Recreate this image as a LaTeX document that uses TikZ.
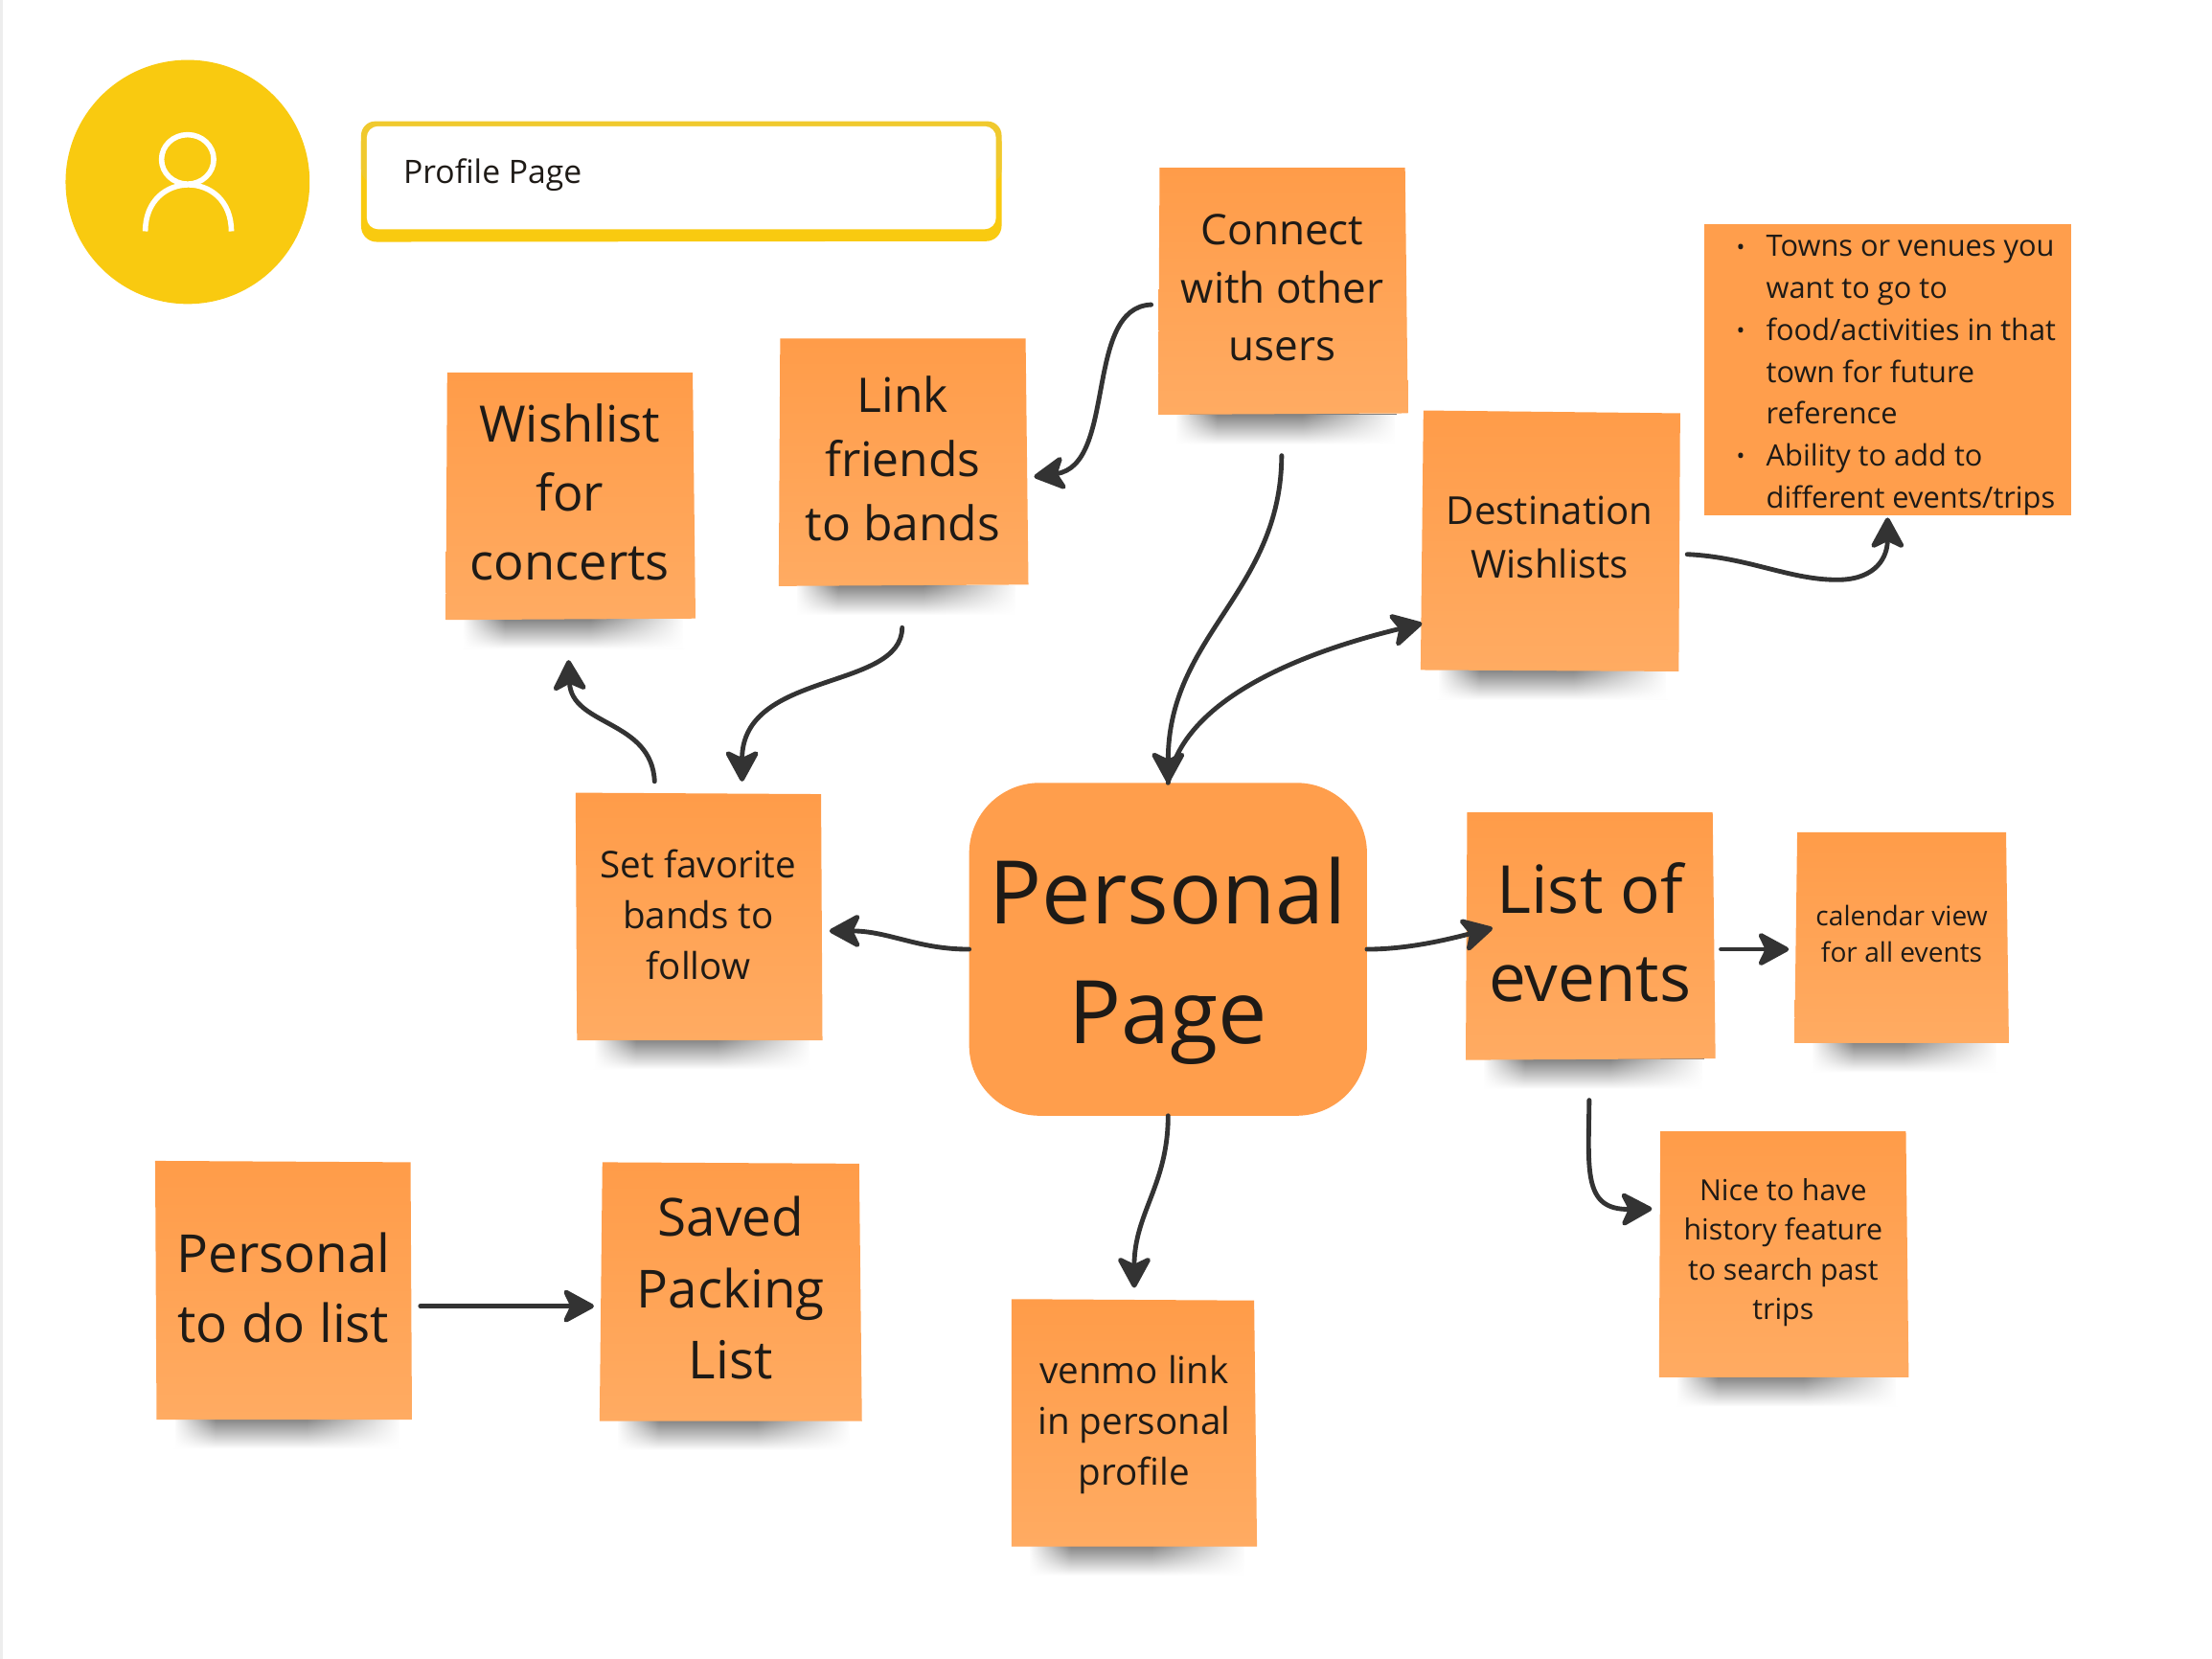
\documentclass[tikz,border=0pt]{standalone}
\usepackage{fontspec}
\setmainfont{Open Sans}
\usetikzlibrary{arrows.meta,fadings,calc}
\definecolor{noteTop}{HTML}{FF9C49}
\definecolor{noteBot}{HTML}{FFAB62}
\definecolor{noteFlat}{HTML}{FF9E4C}
\definecolor{avatarYellow}{HTML}{F9CA10}
\definecolor{rimYellow}{HTML}{F0C92E}
\definecolor{inkDark}{HTML}{1E1A16}
\definecolor{arrowDark}{HTML}{333333}
\tikzset{
  notebody/.style={top color=noteTop,bottom color=noteBot,draw=none},
  notelabel/.style={align=center,text=inkDark,inner sep=0pt,outer sep=0pt},
  flow/.style={draw=arrowDark,line width=1.65pt,line cap=round,
    -{Stealth[length=12.5pt,width=13.5pt,inset=3.2pt,round]}},
  shadowstrip/.style={top color=black!48,bottom color=white,draw=none}
}
\newcommand{\fs}[2]{\fontsize{#1pt}{#2pt}\selectfont}
% #1 left x, #2 right x, #3 bottom y
\newcommand{\noteshadow}[3]{%
  \pgfmathsetmacro{\sa}{#1+12}\pgfmathsetmacro{\sb}{#2-8}\pgfmathsetmacro{\sc}{#3+21}%
  \pgfmathsetmacro{\sd}{#1+42}\pgfmathsetmacro{\se}{#2-75}%
  \shade[shadowstrip] (\sa,#3) rectangle (\sb,\sc);
  \fill[white,path fading=east] (\sa,#3) rectangle (\sd,\sc);
  \fill[white,path fading=west] (\se,#3) rectangle (\sb,\sc);
  \pgfmathsetmacro{\sf}{\sa-3}\pgfmathsetmacro{\sg}{\sa+1}\pgfmathsetmacro{\sh}{\sb+3}\pgfmathsetmacro{\si}{\sb-1}%
  \fill[white] (\sf,#3) rectangle (\sg,\sc);
  \fill[white] (\si,#3) rectangle (\sh,\sc);
}
% #1 name, #2 polygon, #3 centre, #4 width pt, #5 height pt, #6 font, #7 text
\newcommand{\sticky}[7]{%
  \shade[notebody] #2 -- cycle;
  \node[notelabel,minimum width=#4pt,minimum height=#5pt,font=#6] (#1) at #3 {#7};
}
\newcommand{\blt}{\llap{\raisebox{0.6pt}{\fontsize{8}{8}\selectfont •}\hspace{7.5pt}}}
\begin{document}
\begin{tikzpicture}[x=0.5pt,y=-0.5pt]
\useasboundingbox (0,0) rectangle (1568,1176);
\fill[white] (0,0) rectangle (1568,1176);
\fill[black!7] (0,0) rectangle (2,1176);

% avatar
\fill[avatarYellow] (133,129) circle [radius=86.5];
\draw[white,line width=1.9pt] (133,113) circle [x radius=18.5,y radius=17.5];
\draw[white,line width=1.9pt] (103,164) .. controls (103,120) and (164,120) .. (164,164);
\node[inner sep=0pt] (avatar) at (133,129) {};

% profile field
\fill[avatarYellow] (256,100) -- (710,100) -- (710,160) arc (0:90:11) -- (267,171.5) arc (90:180:11) -- cycle;
\fill[rimYellow,rounded corners=5pt] (256,86) rectangle (710,130);
\fill[white,rounded corners=4pt] (260,89.5) rectangle (706,162.5);
\node[anchor=base west,inner sep=0pt,text=inkDark,font=\fs{11.45}{16}] (profile) at (285.5,130) {Profile Page};

% shadows
\noteshadow{821}{998}{294}
\noteshadow{552}{729}{415}
\noteshadow{316}{493}{439}
\noteshadow{1007}{1190}{475}
\noteshadow{409}{583}{737}
\noteshadow{1039}{1216}{751}
\noteshadow{1272}{1424}{739}
\noteshadow{1176}{1353}{976}
\noteshadow{111}{292}{1006}
\noteshadow{425}{611}{1007}
\noteshadow{717}{891}{1096}

% notes
\sticky{connect}{(822,119) -- (996,119) -- (998,293) -- (821,294)}{(909,204)}{88}{87}{\fs{14.95}{20.6}}{Connect\\with other\\users}
\sticky{link}{(553,240) -- (727,240) -- (729,414.5) -- (552,415.5)}{(640,325)}{88}{87}{\fs{16.9}{22.8}}{Link\\friends\\to bands}
\sticky{wishlist}{(317,264) -- (491,264) -- (493,438.5) -- (316,439.5)}{(404,349)}{88}{87}{\fs{17.8}{24.5}}{Wishlist\\for\\concerts}
\sticky{destination}{(1009,291) -- (1191,293) -- (1190,476) -- (1007,475)}{(1098.5,381)}{91}{91}{\fs{13.65}{19}}{Destination\\Wishlists}
\fill[noteFlat] (1208,159) rectangle (1468,365.5);
\node[notelabel,align=left,anchor=north west,font=\fs{10.45}{14.85}] (bullets) at (1252,167)
  {\blt Towns or venues you\\want to go to\\\blt food/activities in that\\town for future\\reference\\\blt Ability to add to\\different events/trips};
\sticky{setfav}{(408,562) -- (582,563) -- (583,737.5) -- (409,737.5)}{(495,648.5)}{87}{87}{\fs{13.1}{18}}{Set favorite\\bands to\\follow}
\sticky{events}{(1040,576) -- (1214,576) -- (1216,750.5) -- (1039,751.5)}{(1127,661)}{88}{87}{\fs{23.5}{31.5}}{List of\\events}
\sticky{calendar}{(1274,590) -- (1422,590) -- (1424,739.5) -- (1272,739.5)}{(1348,662)}{75}{74}{\fs{9.55}{13}}{calendar view\\for all events}
\sticky{nice}{(1177,802) -- (1351,802) -- (1353,976.5) -- (1176,976.5)}{(1264,888)}{88}{87}{\fs{10.3}{14.1}}{Nice to have\\history feature\\to search past\\trips}
\sticky{todo}{(110,823) -- (291,824) -- (292,1006.5) -- (111,1006.5)}{(201,913)}{90}{91}{\fs{18.6}{25}}{Personal\\to do list}
\sticky{saved}{(427,824) -- (609,825) -- (611,1007.5) -- (425,1007.5)}{(518,913)}{92}{91}{\fs{18.6}{25.2}}{Saved\\Packing\\List}
\sticky{venmo}{(717,921) -- (889,922) -- (891,1096.5) -- (717,1096.5)}{(804,1010)}{87}{87}{\fs{13.1}{18}}{venmo link\\in personal\\profile}

% centre
\fill[noteFlat,rounded corners=25pt] (687,555) rectangle (969,791);
\node[notelabel,font=\fs{31.1}{42.5}] (personalText) at (828,681) {Personal\\Page};
\node[inner sep=0pt,outer sep=0pt,minimum width=141pt,minimum height=118pt] (personal) at (828,673) {};

% free ends
\coordinate (connectOut) at (816,216);
\coordinate (linkIn) at (733,338);
\coordinate (connectDown) at (908.5,323);
\coordinate (destIn) at (1008,442);
\coordinate (destOut) at (1196,393);
\coordinate (destMid) at (1305,411);
\coordinate (bulletsIn) at (1338,367);
\coordinate (linkOut) at (639.5,445);
\coordinate (setIn) at (526,554);
\coordinate (setOut) at (464,554);
\coordinate (wishIn) at (403,468);
\coordinate (setSide) at (588,660);
\coordinate (eventsIn) at (1058,658);
\coordinate (eventsOut) at (1220,673);
\coordinate (calIn) at (1268,673);
\coordinate (eventsDown) at (1126.5,780);
\coordinate (niceIn) at (1171,857);
\coordinate (venmoIn) at (804,913);
\coordinate (todoOut) at (298,926);
\coordinate (savedIn) at (421,926);

% connectors
\draw[flow] (connectOut) .. controls (768,218) and (792,330) .. (linkIn);
\draw[flow] (connectDown) .. controls (908,420) and (828,450) .. (personal.north);
\draw[flow] (personal.north) .. controls (838,495) and (925,462) .. (destIn);
\draw[flow] (destOut) .. controls (1240,395) and (1270,412) .. (destMid) .. controls (1330,410) and (1338,395) .. (bulletsIn);
\draw[flow] (linkOut) .. controls (639,490) and (526,475) .. (setIn);
\draw[flow] (setOut) .. controls (462,510) and (405,515) .. (wishIn);
\draw[flow] (personal.west) .. controls (650,673) and (630,660) .. (setSide);
\draw[flow] (personal.east) .. controls (1000,673) and (1030,665) .. (eventsIn);
\draw[flow] (eventsOut) -- (calIn);
\draw[flow] (eventsDown) .. controls (1126,830) and (1122,858) .. (niceIn);
\draw[flow] (personal.south) .. controls (828,840) and (804,860) .. (venmoIn);
\draw[flow] (todoOut) -- (savedIn);
\end{tikzpicture}
\end{document}
